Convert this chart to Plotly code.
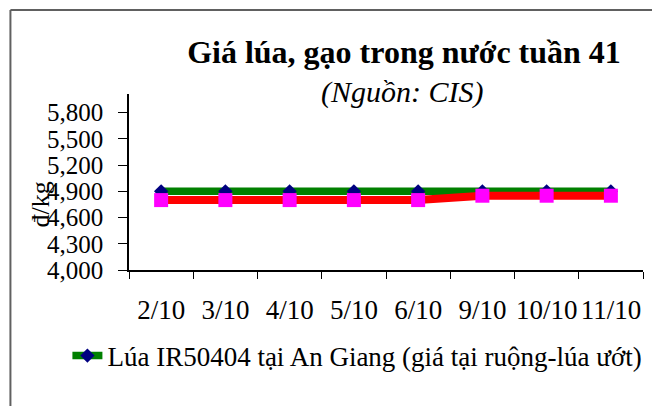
import plotly.graph_objects as go

# ---- data ----
dates = ["2/10", "3/10", "4/10", "5/10", "6/10", "9/10", "10/10", "11/10"]
lua_an_giang = [4900, 4900, 4900, 4900, 4900, 4900, 4900, 4900]
series2 = [4800, 4800, 4800, 4800, 4800, 4850, 4850, 4850]
y_ticks = [4000, 4300, 4600, 4900, 5200, 5500, 5800]
y_tick_text = ["4,000", "4,300", "4,600", "4,900", "5,200", "5,500", "5,800"]

# The page body adds an 8px offset; design in reference pixels and shift.
OFF = 8
W, H = 660 - OFF, 406 - OFF
L = 128.6 - OFF
R = W - (642.7 - OFF)
T = 94 - OFF
B = H - (270 - OFF)
pw, ph = W - L - R, H - T - B

def px_x(x):
    return (x - OFF - L) / pw

def px_y(y):
    return (H - B - (y - OFF)) / ph

FONT = "Liberation Serif"

fig = go.Figure()
fig.add_trace(go.Scatter(
    x=dates, y=lua_an_giang, mode="lines+markers",
    name="Lúa IR50404 tại An Giang (giá tại ruộng-lúa ướt)",
    line=dict(color="#008000", width=7.5),
    marker=dict(symbol="diamond", color="#000080", size=11, line=dict(width=0)),
))
fig.add_trace(go.Scatter(
    x=dates, y=series2, mode="lines+markers",
    name="Series 2", showlegend=False,
    line=dict(color="#FF0000", width=8),
    marker=dict(symbol="square", color="#FF00FF", size=14, line=dict(width=0)),
))

fig.update_layout(
    width=W, height=H,
    margin=dict(l=L, r=R, t=T, b=B, pad=0, autoexpand=False),
    paper_bgcolor="white", plot_bgcolor="white",
    font=dict(family=FONT, color="black", size=24),
    title=dict(
        text="<b>Giá lúa, gạo trong nước tuần 41</b>",
        x=(404 - OFF) / W, xanchor="center", y=1 - (52 - OFF) / H, yanchor="middle",
        font=dict(family=FONT, size=32, color="black"), automargin=False,
    ),
    showlegend=True,
    legend=dict(
        orientation="h", x=px_x(67), xanchor="left", y=px_y(356), yanchor="middle",
        font=dict(family=FONT, size=27, color="black"),
        bgcolor="rgba(0,0,0,0)", borderwidth=0,
    ),
    xaxis=dict(
        type="category", tickson="boundaries", ticks="outside", ticklen=7,
        tickcolor="black", showline=True, linecolor="black", linewidth=1.5,
        showgrid=False, zeroline=False, range=[-0.5, 7.5], tickangle=0,
        automargin=False,
        tickfont=dict(family=FONT, size=27), ticklabelstandoff=15,
    ),
    yaxis=dict(
        range=[4000, 6014], tickmode="array", tickvals=y_ticks, ticktext=y_tick_text,
        ticks="outside", ticklen=9, tickcolor="black", showline=True,
        linecolor="black", linewidth=1.5, showgrid=False, zeroline=False,
        automargin=False,
        tickfont=dict(family=FONT, size=25), ticklabelstandoff=10,
    ),
    annotations=[
        dict(text="<i>(Nguồn: CIS)</i>", xref="paper", yref="paper",
             x=px_x(402), y=px_y(92), xanchor="center", yanchor="middle",
             showarrow=False, font=dict(family=FONT, size=30, color="black")),
        dict(text="đ/kg", xref="paper", yref="paper", textangle=-90,
             x=px_x(40), y=px_y(204), xanchor="center", yanchor="middle",
             showarrow=False, font=dict(family=FONT, size=26, color="black")),
    ],
    shapes=[
        dict(type="line", xref="paper", yref="paper", x0=px_x(10), x1=px_x(10),
             y0=px_y(10), y1=px_y(420), line=dict(color="#606060", width=2)),
        dict(type="line", xref="paper", yref="paper", x0=px_x(10), x1=px_x(670),
             y0=px_y(10), y1=px_y(10), line=dict(color="#606060", width=2)),
    ],
)

fig.write_html("out.html")
